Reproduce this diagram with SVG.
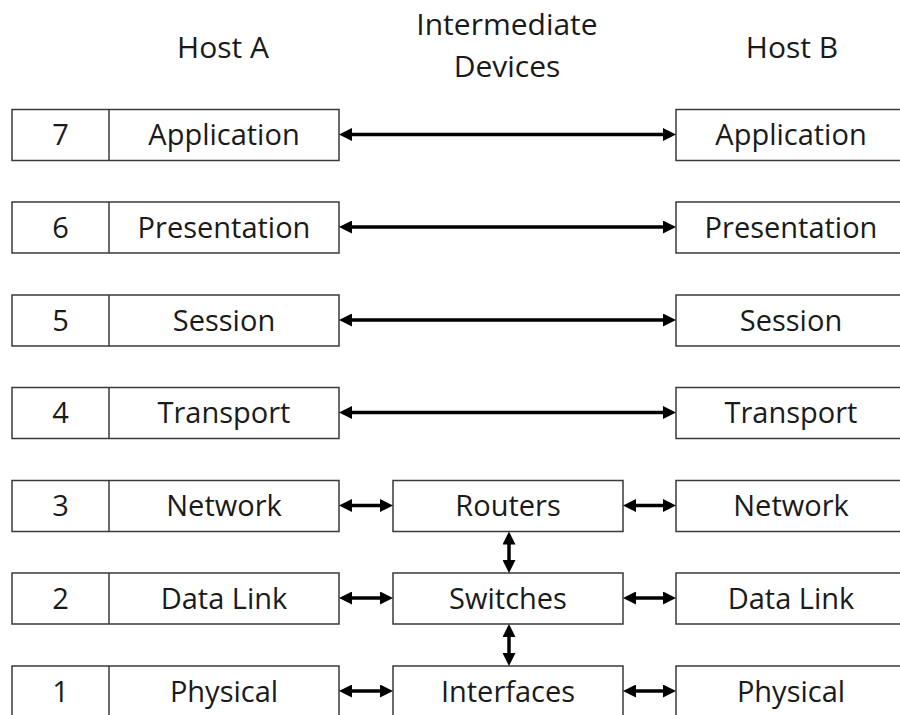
<svg xmlns="http://www.w3.org/2000/svg" width="900" height="715" viewBox="0 0 900 715">
  <style>
    .box { fill: #ffffff; stroke: #3a3a3a; stroke-width: 1.5; }
    .div { stroke: #3a3a3a; stroke-width: 1.5; }
    .t { font-family: "Open Sans", "Liberation Sans", sans-serif; font-size: 29px; fill: #1a1a1a; text-anchor: middle; }
    .h { font-family: "Open Sans", "Liberation Sans", sans-serif; font-size: 30px; fill: #1a1a1a; text-anchor: middle; }
    .arr { fill: none; stroke: #000000; stroke-width: 3.5; marker-start: url(#ah); marker-end: url(#ah); }
  </style>
  <defs>
    <marker id="ah" viewBox="0 0 13 13" refX="6" refY="6.5" markerWidth="13" markerHeight="13" markerUnits="userSpaceOnUse" orient="auto-start-reverse">
      <path d="M0,0 L13,6.5 L0,13 z" fill="#000000"/>
    </marker>
  </defs>
  <rect width="900" height="715" fill="#ffffff"/>

  <g id="headers">
    <text class="h" x="223" y="58">Host A</text>
    <text class="h" x="507" y="35">Intermediate</text>
    <text class="h" x="507" y="77">Devices</text>
    <text class="h" x="792" y="58">Host B</text>
  </g>

  <g id="hostA-7"><rect class="box" x="12" y="109.5" width="327" height="51"/><line class="div" x1="109" y1="109.5" x2="109" y2="160.5"/><text class="t" x="60.5" y="145">7</text><text class="t" x="224" y="145">Application</text></g>
  <g id="hostA-6"><rect class="box" x="12" y="202" width="327" height="51"/><line class="div" x1="109" y1="202" x2="109" y2="253"/><text class="t" x="60.5" y="237.5">6</text><text class="t" x="224" y="237.5">Presentation</text></g>
  <g id="hostA-5"><rect class="box" x="12" y="295" width="327" height="51"/><line class="div" x1="109" y1="295" x2="109" y2="346"/><text class="t" x="60.5" y="330.5">5</text><text class="t" x="224" y="330.5">Session</text></g>
  <g id="hostA-4"><rect class="box" x="12" y="387.5" width="327" height="51"/><line class="div" x1="109" y1="387.5" x2="109" y2="438.5"/><text class="t" x="60.5" y="423">4</text><text class="t" x="224" y="423">Transport</text></g>
  <g id="hostA-3"><rect class="box" x="12" y="480.5" width="327" height="51"/><line class="div" x1="109" y1="480.5" x2="109" y2="531.5"/><text class="t" x="60.5" y="516">3</text><text class="t" x="224" y="516">Network</text></g>
  <g id="hostA-2"><rect class="box" x="12" y="573" width="327" height="51"/><line class="div" x1="109" y1="573" x2="109" y2="624"/><text class="t" x="60.5" y="608.5">2</text><text class="t" x="224" y="608.5">Data Link</text></g>
  <g id="hostA-1"><rect class="box" x="12" y="666" width="327" height="51"/><line class="div" x1="109" y1="666" x2="109" y2="717"/><text class="t" x="60.5" y="701.5">1</text><text class="t" x="224" y="701.5">Physical</text></g>

  <g id="routers"><rect class="box" x="393" y="480.5" width="230" height="51"/><text class="t" x="508" y="516">Routers</text></g>
  <g id="switches"><rect class="box" x="393" y="573" width="230" height="51"/><text class="t" x="508" y="608.5">Switches</text></g>
  <g id="interfaces"><rect class="box" x="393" y="666" width="230" height="51"/><text class="t" x="508" y="701.5">Interfaces</text></g>

  <g id="hostB-7"><rect class="box" x="676" y="109.5" width="230" height="51"/><text class="t" x="791" y="145">Application</text></g>
  <g id="hostB-6"><rect class="box" x="676" y="202" width="230" height="51"/><text class="t" x="791" y="237.5">Presentation</text></g>
  <g id="hostB-5"><rect class="box" x="676" y="295" width="230" height="51"/><text class="t" x="791" y="330.5">Session</text></g>
  <g id="hostB-4"><rect class="box" x="676" y="387.5" width="230" height="51"/><text class="t" x="791" y="423">Transport</text></g>
  <g id="hostB-3"><rect class="box" x="676" y="480.5" width="230" height="51"/><text class="t" x="791" y="516">Network</text></g>
  <g id="hostB-2"><rect class="box" x="676" y="573" width="230" height="51"/><text class="t" x="791" y="608.5">Data Link</text></g>
  <g id="hostB-1"><rect class="box" x="676" y="666" width="230" height="51"/><text class="t" x="791" y="701.5">Physical</text></g>

  <g id="connectors">
    <path class="arr" d="M346,134.5 H669"/>
    <path class="arr" d="M346,227 H669"/>
    <path class="arr" d="M346,320 H669"/>
    <path class="arr" d="M346,412.5 H669"/>
    <path class="arr" d="M346,505.5 H386"/>
    <path class="arr" d="M630,505.5 H669"/>
    <path class="arr" d="M346,598 H386"/>
    <path class="arr" d="M630,598 H669"/>
    <path class="arr" d="M346,691 H386"/>
    <path class="arr" d="M630,691 H669"/>
    <path class="arr" d="M509,538.5 V566"/>
    <path class="arr" d="M509,631 V659"/>
  </g>
</svg>
